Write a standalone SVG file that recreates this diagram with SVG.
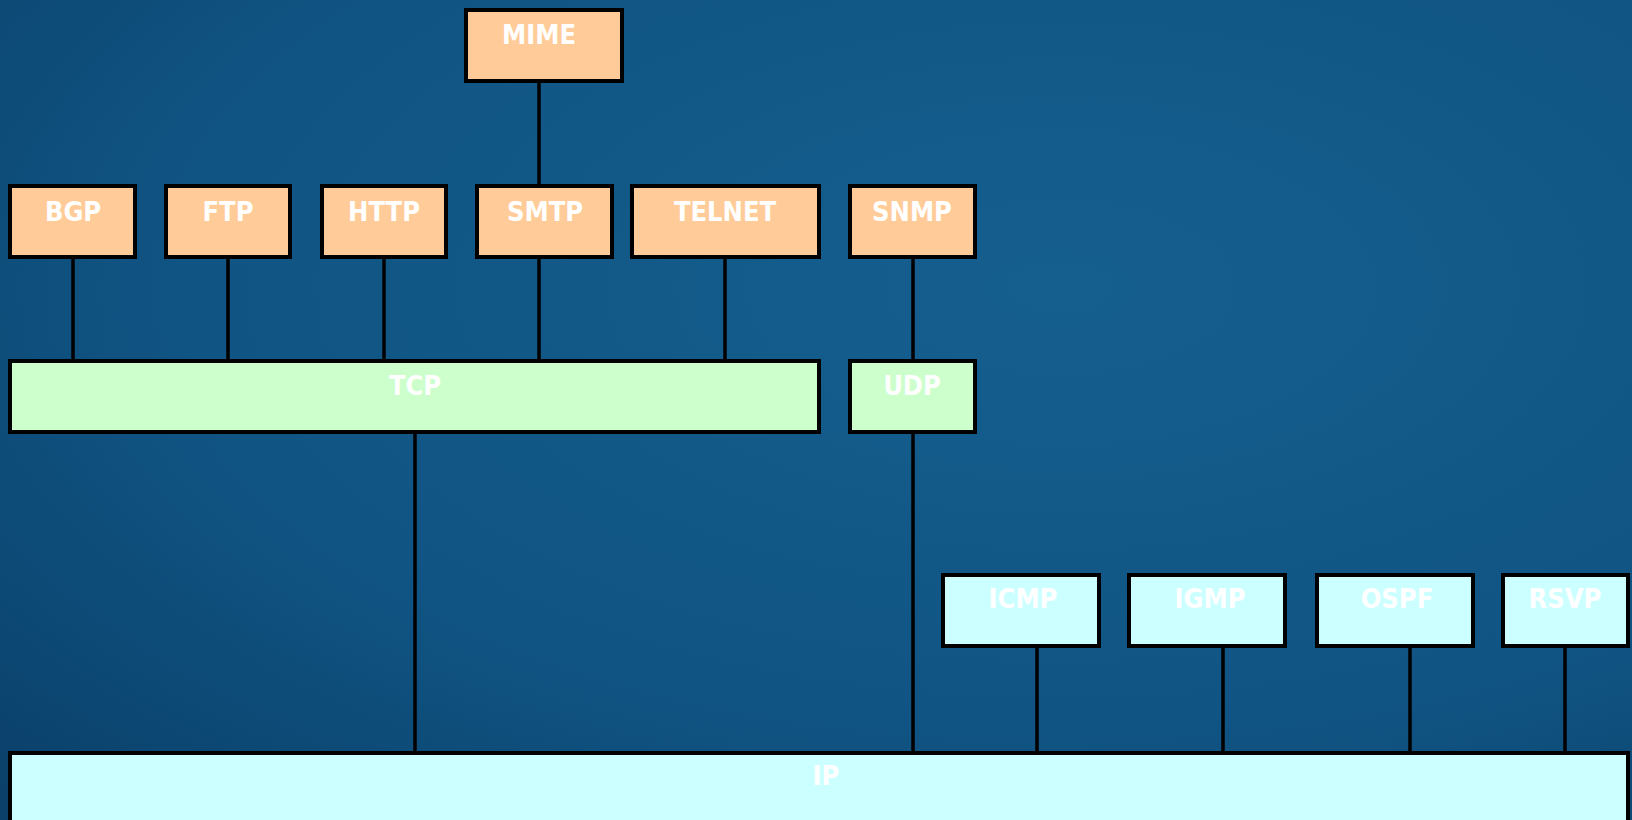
<svg xmlns="http://www.w3.org/2000/svg" width="1632" height="820" viewBox="0 0 1632 820">
  <defs>
    <radialGradient id="bg" cx="0.65" cy="0.35" r="0.9">
      <stop offset="0" stop-color="#155f8e"/>
      <stop offset="0.6" stop-color="#105483"/>
      <stop offset="1" stop-color="#0a406a"/>
    </radialGradient>
    <style>
      .box { stroke: #000; stroke-width: 4; }
      .app { fill: #FFCC99; }
      .tr { fill: #CCFFCC; }
      .net { fill: #CCFFFF; }
      .lbl { fill: #fff; font-family: "DejaVu Sans Condensed", "DejaVu Sans", Verdana, sans-serif; font-weight: bold; font-size: 27px; text-anchor: middle; }
      .conn line { stroke: #000; stroke-width: 3.5; }
    </style>
  </defs>
  <rect x="0" y="0" width="1632" height="820" fill="url(#bg)"/>

  <g id="connectors" class="conn">
    <line x1="539" y1="81" x2="539" y2="185"/>
    <line x1="73" y1="257" x2="73" y2="360"/>
    <line x1="228" y1="257" x2="228" y2="360"/>
    <line x1="384" y1="257" x2="384" y2="360"/>
    <line x1="539" y1="257" x2="539" y2="360"/>
    <line x1="725" y1="257" x2="725" y2="360"/>
    <line x1="913" y1="257" x2="913" y2="360"/>
    <line x1="415" y1="432" x2="415" y2="752"/>
    <line x1="913" y1="432" x2="913" y2="752"/>
    <line x1="1037" y1="646" x2="1037" y2="752"/>
    <line x1="1223" y1="646" x2="1223" y2="752"/>
    <line x1="1410" y1="646" x2="1410" y2="752"/>
    <line x1="1565" y1="646" x2="1565" y2="752"/>
  </g>

  <g id="mime"><rect class="box app" x="466" y="10" width="156" height="71"/><text class="lbl" x="539" y="44">MIME</text></g>
  <g id="bgp"><rect class="box app" x="10" y="186" width="125" height="71"/><text class="lbl" x="73" y="221">BGP</text></g>
  <g id="ftp"><rect class="box app" x="166" y="186" width="124" height="71"/><text class="lbl" x="228" y="221">FTP</text></g>
  <g id="http"><rect class="box app" x="322" y="186" width="124" height="71"/><text class="lbl" x="384" y="221">HTTP</text></g>
  <g id="smtp"><rect class="box app" x="477" y="186" width="135" height="71"/><text class="lbl" x="545" y="221">SMTP</text></g>
  <g id="telnet"><rect class="box app" x="632" y="186" width="187" height="71"/><text class="lbl" x="725" y="221">TELNET</text></g>
  <g id="snmp"><rect class="box app" x="850" y="186" width="125" height="71"/><text class="lbl" x="912" y="221">SNMP</text></g>

  <g id="tcp"><rect class="box tr" x="10" y="361" width="809" height="71"/><text class="lbl" x="415" y="395">TCP</text></g>
  <g id="udp"><rect class="box tr" x="850" y="361" width="125" height="71"/><text class="lbl" x="912" y="395">UDP</text></g>

  <g id="icmp"><rect class="box net" x="943" y="575" width="156" height="71"/><text class="lbl" x="1023" y="608">ICMP</text></g>
  <g id="igmp"><rect class="box net" x="1129" y="575" width="156" height="71"/><text class="lbl" x="1210" y="608">IGMP</text></g>
  <g id="ospf"><rect class="box net" x="1317" y="575" width="156" height="71"/><text class="lbl" x="1397" y="608">OSPF</text></g>
  <g id="rsvp"><rect class="box net" x="1503" y="575" width="125" height="71"/><text class="lbl" x="1565" y="608">RSVP</text></g>

  <g id="ip"><rect class="box net" x="10" y="753" width="1618" height="80"/><text class="lbl" x="826" y="785">IP</text></g>
</svg>
